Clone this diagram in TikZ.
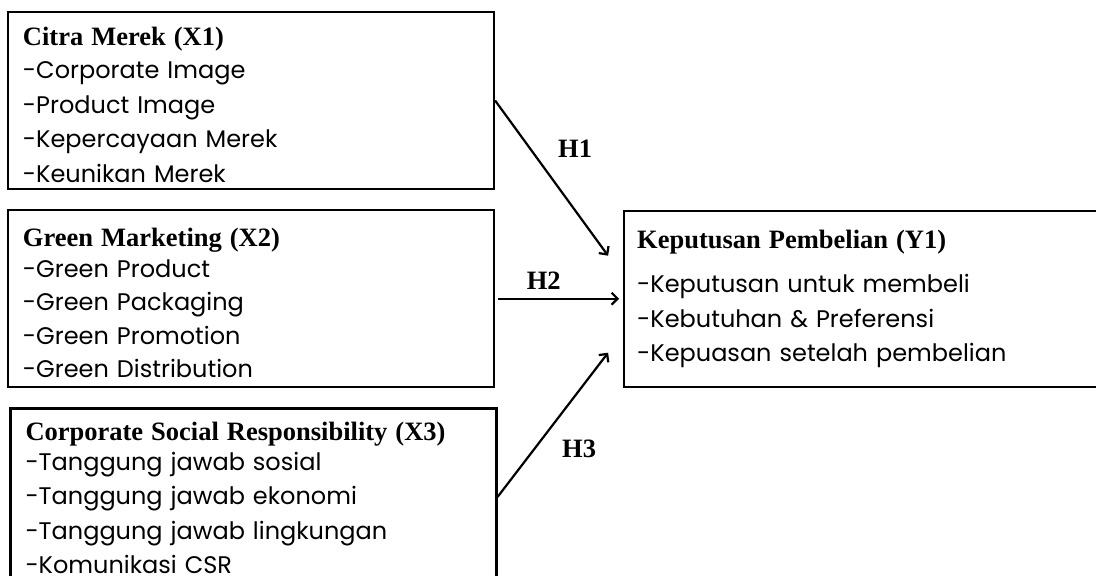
\documentclass[tikz,border=0pt]{standalone}
\usepackage{fontspec}
\setmainfont{Liberation Serif}
\newfontfamily\listfont{Poppins}
\usetikzlibrary{positioning,arrows.meta,calc}

\newcommand{\vartitle}[2][0pt]{{\rmfamily\bfseries\fontsize{26.5}{30}\selectfont\rule{0pt}{#1}#2}}

\begin{document}
\begin{tikzpicture}[x=1pt,y=-1pt,node distance=19pt and 128pt,
    varbox/.style={draw,line width=2.2pt,minimum width=486pt,minimum height=177pt,inner xsep=15pt,inner ysep=0pt,text width=456pt,align=left,font=\listfont\fontsize{24}{34.5}\selectfont},
    hypo/.style={-{Straight Barb[length=6pt,width=12pt]},line width=2.2pt},
    hlabel/.style={font=\rmfamily\bfseries\fontsize{26.5}{30}\selectfont,inner sep=3pt}]
  \clip (0,0) rectangle (1096,576);
  \node[varbox] (x1) at (251,100.5) {\vartitle[27pt]{Citra Merek (X1)}\\[-1.5pt]
    -Corporate Image\\ -Product Image\\ -Kepercayaan Merek\\ -Keunikan Merek};
  \node[varbox,below=of x1] (x2) {\vartitle[27pt]{Green Marketing (X2)}\\[-4pt]
    -Green Product\\[-1pt] -Green Packaging\\[-1pt] -Green Promotion\\[-1pt] -Green Distribution};
  \node[varbox,below=of x2,xshift=2.5pt] (x3) {\vartitle[21pt]{Corporate Social Responsibility (X3)}\\[-5pt]
    -Tanggung jawab sosial\\ -Tanggung jawab ekonomi\\ -Tanggung jawab lingkungan\\ -Komunikasi CSR};
  \node[varbox,right=of x2,minimum width=478pt,minimum height=176pt,inner xsep=13pt,text width=452pt] (y1) {\vartitle{Keputusan Pembelian (Y1)}\\[10pt]
    -Keputusan untuk membeli\\ -Kebutuhan \& Preferensi\\ -Kepuasan setelah pembelian};
  \draw[hypo] (x1.east) -- node[hlabel,pos=0.31,right=24pt]{H1} ($(y1.west)+(-15,-43)$);
  \draw[hypo,shorten <=3pt,shorten >=4pt] (x2.east) -- node[hlabel,pos=0.38,above=5pt]{H2} (y1.west);
  \draw[hypo] (x3.east) -- node[hlabel,pos=0.33,right=24pt]{H3} ($(y1.west)+(-15,54)$);
\end{tikzpicture}
\end{document}
